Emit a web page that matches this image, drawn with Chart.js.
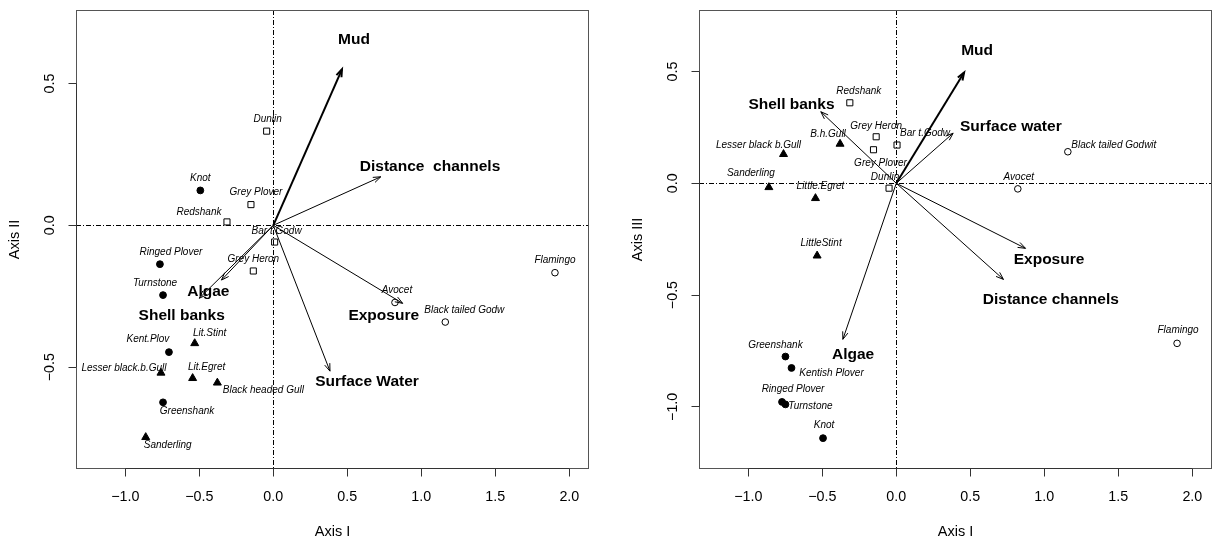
<!DOCTYPE html>
<html><head><meta charset="utf-8">
<script src="https://cdn.jsdelivr.net/npm/chart.js@4/dist/chart.umd.min.js"></script>
<style>
html,body{margin:0;padding:0;background:#fff;overflow:hidden}
#wrap{position:relative;width:1212px;height:541px}
canvas{position:absolute;top:0}
</style></head><body>
<div id="wrap">
<canvas id="c1" width="606" height="541" style="left:0px"></canvas>
<canvas id="c2" width="606" height="541" style="left:606px"></canvas>
</div>
<script>
// ================= DATA =================
const xTicks = [-1.0, -0.5, 0.0, 0.5, 1.0, 1.5, 2.0];
const yTicksLeft = [-0.5, 0.0, 0.5];
const yTicksRight = [-1.0, -0.5, 0.0, 0.5];
const xRange = [-1.333, 2.133];
const yRangeLeft = [-0.859, 0.759];
const yRangeRight = [-1.278, 0.775];
const xTitle = 'Axis I';
const yTitleLeft = 'Axis II';
const yTitleRight = 'Axis III';

// ---- Left panel: Axis I vs Axis II ----
const L_circleNames = ['Knot', 'Ringed Plover', 'Turnstone', 'Kent.Plov', 'Greenshank'];
const L_circleX = [-0.493, -0.766, -0.745, -0.705, -0.745];
const L_circleY = [0.123, -0.137, -0.246, -0.447, -0.624];

const L_squareNames = ['Dunlin', 'Grey Plover', 'Redshank', 'Bar t.Godw', 'Grey Heron'];
const L_squareX = [-0.045, -0.151, -0.313, 0.009, -0.135];
const L_squareY = [0.332, 0.073, 0.012, -0.059, -0.161];

const L_triNames = ['Lit.Stint', 'Lesser black.b.Gull', 'Lit.Egret', 'Black headed Gull', 'Sanderling'];
const L_triX = [-0.531, -0.759, -0.545, -0.378, -0.862];
const L_triY = [-0.416, -0.520, -0.539, -0.555, -0.747];

const L_openNames = ['Avocet', 'Black tailed Godw', 'Flamingo'];
const L_openX = [0.822, 1.162, 1.903];
const L_openY = [-0.272, -0.341, -0.167];

const L_envNames = ['Mud', 'Distance  channels', 'Exposure', 'Surface Water', 'Algae', 'Shell banks'];
const L_envX = [0.464, 0.726, 0.874, 0.383, -0.500, -0.350];
const L_envY = [0.550, 0.171, -0.275, -0.514, -0.257, -0.193];
const L_envLabelX = [0.545, 1.059, 0.746, 0.633, -0.439, -0.619];
const L_envLabelY = [0.656, 0.207, -0.320, -0.552, -0.234, -0.319];

// ---- Right panel: Axis I vs Axis III ----
const R_circleNames = ['Greenshank', 'Kentish Plover', 'Ringed Plover', 'Turnstone', 'Knot'];
const R_circleX = [-0.749, -0.708, -0.772, -0.749, -0.495];
const R_circleY = [-0.775, -0.826, -0.978, -0.989, -1.140];

const R_squareNames = ['Redshank', 'Grey Heron', 'Grey Plover', 'Bar t.Godw', 'Dunlin'];
const R_squareX = [-0.314, -0.136, -0.154, 0.005, -0.049];
const R_squareY = [0.360, 0.208, 0.150, 0.171, -0.022];

const R_triNames = ['B.h.Gull', 'Lesser black b.Gull', 'Sanderling', 'Little.Egret', 'LittleStint'];
const R_triX = [-0.380, -0.762, -0.861, -0.546, -0.535];
const R_triY = [0.176, 0.130, -0.018, -0.067, -0.324];

const R_openNames = ['Black tailed Godwit', 'Avocet', 'Flamingo'];
const R_openX = [1.159, 0.821, 1.897];
const R_openY = [0.141, -0.025, -0.716];

const R_envNames = ['Mud', 'Surface water', 'Exposure', 'Distance channels', 'Algae', 'Shell banks'];
const R_envX = [0.458, 0.384, 0.873, 0.724, -0.361, -0.510];
const R_envY = [0.495, 0.224, -0.291, -0.430, -0.698, 0.320];
const R_envLabelX = [0.546, 0.774, 1.032, 1.044, -0.292, -0.708];
const R_envLabelY = [0.592, 0.253, -0.343, -0.522, -0.768, 0.353];

// ================= STYLE (label pixel offsets, fonts) =================
const FONT = '"Liberation Sans", Arial, Helvetica, sans-serif';
const L_labelOffset = {
  'Knot': [0, -12], 'Ringed Plover': [11, -12], 'Turnstone': [-8, -12], 'Kent.Plov': [-21, -13],
  'Greenshank': [24, 9], 'Dunlin': [1, -12], 'Grey Plover': [5, -12], 'Redshank': [-28, -10],
  'Bar t.Godw': [2, -11], 'Grey Heron': [0, -12], 'Lit.Stint': [15, -10],
  'Lesser black.b.Gull': [-37, -5], 'Lit.Egret': [14, -11], 'Black headed Gull': [46, 7],
  'Sanderling': [22, 8], 'Avocet': [2, -12], 'Black tailed Godw': [19, -12], 'Flamingo': [0, -12]
};
const R_labelOffset = {
  'Greenshank': [-10, -11], 'Kentish Plover': [40, 5], 'Ringed Plover': [11, -13],
  'Turnstone': [25, 2], 'Knot': [1, -13], 'Redshank': [9, -12], 'Grey Heron': [0, -11],
  'Grey Plover': [7, 13], 'Bar t.Godw': [28, -12], 'Dunlin': [-4, -11], 'B.h.Gull': [-12, -10],
  'Lesser black b.Gull': [-25, -9], 'Sanderling': [-18, -14], 'Little.Egret': [5, -12],
  'LittleStint': [4, -12], 'Black tailed Godwit': [46, -7], 'Avocet': [1, -12], 'Flamingo': [1, -13]
};
const mudIndexWidth = 2;

function pts(xs, ys) { return xs.map((x, i) => ({ x: x, y: ys[i] })); }

function fmt(v) {
  const s = Math.abs(v).toFixed(1);
  return (v < -1e-9 ? '\u2212' : '') + s;
}

const panelPlugin = {
  id: 'panel',
  beforeDatasetsDraw(chart) {
    const { ctx, chartArea: a, scales: { x, y } } = chart;
    ctx.save();
    ctx.strokeStyle = '#000';
    ctx.lineWidth = 1;
    ctx.setLineDash([5, 2, 1, 2]);
    const x0 = Math.round(x.getPixelForValue(0)) + 0.5;
    const y0 = Math.round(y.getPixelForValue(0)) + 0.5;
    ctx.beginPath();
    ctx.moveTo(a.left, y0); ctx.lineTo(a.right, y0);
    ctx.moveTo(x0, a.top); ctx.lineTo(x0, a.bottom);
    ctx.stroke();
    ctx.restore();
  },
  afterDatasetsDraw(chart) {
    const { ctx, scales: { x, y } } = chart;
    const cfg = chart.options.plugins.panel;
    ctx.save();
    // arrowheads
    ctx.strokeStyle = '#000';
    cfg.envX.forEach((ex, i) => {
      const px0 = x.getPixelForValue(0), py0 = y.getPixelForValue(0);
      const px = x.getPixelForValue(ex), py = y.getPixelForValue(cfg.envY[i]);
      const ang = Math.atan2(py - py0, px - px0);
      const len = 8, spread = Math.PI / 9;
      ctx.lineWidth = i === 0 ? mudIndexWidth : 1;
      ctx.beginPath();
      ctx.moveTo(px - len * Math.cos(ang - spread), py - len * Math.sin(ang - spread));
      ctx.lineTo(px, py);
      ctx.lineTo(px - len * Math.cos(ang + spread), py - len * Math.sin(ang + spread));
      ctx.stroke();
    });
    // species labels
    ctx.fillStyle = '#000';
    ctx.font = 'italic 10px ' + FONT;
    ctx.textAlign = 'center';
    ctx.textBaseline = 'middle';
    cfg.groups.forEach(g => {
      g.names.forEach((n, i) => {
        const off = cfg.offsets[n] || [0, -12];
        ctx.fillText(n, x.getPixelForValue(g.xs[i]) + off[0], y.getPixelForValue(g.ys[i]) + off[1]);
      });
    });
    // env labels
    ctx.font = 'bold 15.5px ' + FONT;
    cfg.envNames.forEach((n, i) => {
      ctx.fillText(n, x.getPixelForValue(cfg.envLabelX[i]), y.getPixelForValue(cfg.envLabelY[i]));
    });
    ctx.restore();
  },
  afterDraw(chart) {
    const { ctx, chartArea: a, scales: { x, y } } = chart;
    ctx.save();
    ctx.strokeStyle = '#555';
    ctx.lineWidth = 1;
    ctx.strokeRect(Math.round(a.left) + 0.5, Math.round(a.top) + 0.5, Math.round(a.right - a.left) - 1, Math.round(a.bottom - a.top) - 1);
    // R-style axis lines spanning first to last tick
    ctx.strokeStyle = '#333';
    const xt = chart.options.plugins.panel.xt, yt = chart.options.plugins.panel.yt;
    ctx.beginPath();
    ctx.moveTo(x.getPixelForValue(xt[0]), Math.round(a.bottom) - 0.5);
    ctx.lineTo(x.getPixelForValue(xt[xt.length - 1]), Math.round(a.bottom) - 0.5);
    ctx.moveTo(Math.round(a.left) + 0.5, y.getPixelForValue(yt[0]));
    ctx.lineTo(Math.round(a.left) + 0.5, y.getPixelForValue(yt[yt.length - 1]));
    ctx.stroke();
    ctx.restore();
  }
};

function makeChart(canvasId, p) {
  const groups = [
    { names: p.circleNames, xs: p.circleX, ys: p.circleY },
    { names: p.squareNames, xs: p.squareX, ys: p.squareY },
    { names: p.triNames, xs: p.triX, ys: p.triY },
    { names: p.openNames, xs: p.openX, ys: p.openY }
  ];
  const datasets = [
    { data: pts(p.circleX, p.circleY), pointStyle: 'circle', pointRadius: 3.4, backgroundColor: '#000', borderColor: '#000', borderWidth: 1 },
    { data: pts(p.squareX, p.squareY), pointStyle: 'rect', pointRadius: 4.3, backgroundColor: 'rgba(0,0,0,0)', borderColor: '#000', borderWidth: 1 },
    { data: pts(p.triX, p.triY), pointStyle: 'triangle', pointRadius: 4.6, backgroundColor: '#000', borderColor: '#000', borderWidth: 1 },
    { data: pts(p.openX, p.openY), pointStyle: 'circle', pointRadius: 3.3, backgroundColor: 'rgba(0,0,0,0)', borderColor: '#000', borderWidth: 1 }
  ];
  p.envX.forEach((ex, i) => {
    datasets.push({
      type: 'line', data: [{ x: 0, y: 0 }, { x: ex, y: p.envY[i] }],
      borderColor: '#000', borderWidth: i === 0 ? mudIndexWidth : 1, pointRadius: 0, fill: false, tension: 0
    });
  });
  const tickFont = { family: FONT, size: 14.3 };
  return new Chart(document.getElementById(canvasId), {
    type: 'scatter',
    data: { datasets },
    plugins: [panelPlugin],
    options: {
      responsive: false, animation: false, devicePixelRatio: 1,
      layout: { padding: p.padding, autoPadding: false },
      plugins: {
        legend: { display: false }, tooltip: { enabled: false },
        panel: {
          groups, offsets: p.offsets, envX: p.envX, envY: p.envY, envNames: p.envNames,
          envLabelX: p.envLabelX, envLabelY: p.envLabelY, xt: xTicks, yt: p.yTicks
        }
      },
      scales: {
        x: {
          type: 'linear', min: xRange[0], max: xRange[1],
          afterBuildTicks: s => { s.ticks = xTicks.map(v => ({ value: v })); },
          afterFit: s => { s.height = 72; s.paddingLeft = 0; s.paddingRight = 0; },
          grid: { display: true, drawOnChartArea: false, drawTicks: true, tickLength: 7.5, color: '#333' },
          border: { display: false },
          ticks: { font: tickFont, color: '#000', padding: 11.5, maxRotation: 0, autoSkip: false, callback: v => fmt(v) },
          title: { display: true, text: xTitle, font: { family: FONT, size: 14.5 }, color: '#000', padding: { top: 0, bottom: 0 } }
        },
        y: {
          type: 'linear', min: p.yRange[0], max: p.yRange[1],
          afterBuildTicks: s => { s.ticks = p.yTicks.map(v => ({ value: v })); },
          afterFit: s => { s.width = 76; s.paddingTop = 0; s.paddingBottom = 0; },
          grid: { display: true, drawOnChartArea: false, drawTicks: true, tickLength: 7.5, color: '#333' },
          border: { display: false },
          ticks: { font: tickFont, color: '#000', padding: 4.2, minRotation: 90, maxRotation: 90, crossAlign: 'center', autoSkip: false, callback: v => fmt(v) },
          title: { display: true, text: p.yTitle, font: { family: FONT, size: 14.5 }, color: '#000', padding: { top: 6.3, bottom: 0 } }
        }
      }
    }
  });
}

makeChart('c1', {
  circleNames: L_circleNames, circleX: L_circleX, circleY: L_circleY,
  squareNames: L_squareNames, squareX: L_squareX, squareY: L_squareY,
  triNames: L_triNames, triX: L_triX, triY: L_triY,
  openNames: L_openNames, openX: L_openX, openY: L_openY,
  envNames: L_envNames, envX: L_envX, envY: L_envY, envLabelX: L_envLabelX, envLabelY: L_envLabelY,
  yRange: yRangeLeft, yTicks: yTicksLeft, yTitle: yTitleLeft, offsets: L_labelOffset,
  padding: { left: 0, right: 17, top: 10, bottom: 0 }
});
makeChart('c2', {
  circleNames: R_circleNames, circleX: R_circleX, circleY: R_circleY,
  squareNames: R_squareNames, squareX: R_squareX, squareY: R_squareY,
  triNames: R_triNames, triX: R_triX, triY: R_triY,
  openNames: R_openNames, openX: R_openX, openY: R_openY,
  envNames: R_envNames, envX: R_envX, envY: R_envY, envLabelX: R_envLabelX, envLabelY: R_envLabelY,
  yRange: yRangeRight, yTicks: yTicksRight, yTitle: yTitleRight, offsets: R_labelOffset,
  padding: { left: 17, right: 0, top: 10, bottom: 0 }
});
</script>
</body></html>
